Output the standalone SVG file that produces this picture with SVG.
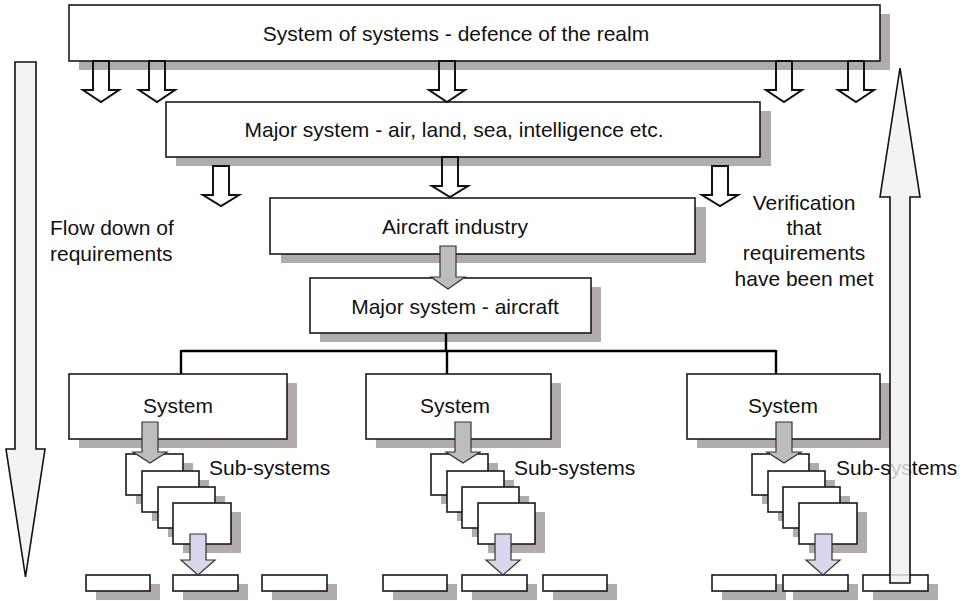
<svg xmlns="http://www.w3.org/2000/svg" width="964" height="601" viewBox="0 0 964 601">
  <style>
    text { font-family: "Liberation Sans", Arial, sans-serif; font-size: 21px; fill: #111; }
    .box { fill: #fff; stroke: #1a1a1a; stroke-width: 1.6; }
    .shadow { fill: #b1abab; }
    .hollow { fill: none; stroke: #111; stroke-width: 2; stroke-linejoin: miter; }
    .grey { fill: #bdbdbd; stroke: #333; stroke-width: 1.2; }
    .lilac { fill: #d9d6ee; stroke: #333; stroke-width: 1.2; }
    .big { fill: #f0f0f0; fill-opacity: 0.8; stroke: #111; stroke-width: 1.6; }
    .tree { fill: none; stroke: #000; stroke-width: 2.4; }
    .mid { text-anchor: middle; }
  </style>

  <!-- level 1 -->
  <g id="system-of-systems">
    <rect class="shadow" x="79" y="14" width="811" height="56"/>
    <rect class="box" x="69" y="5" width="811" height="56"/>
    <text class="mid" x="456" y="41">System of systems - defence of the realm</text>
  </g>

  <!-- level 2 -->
  <g id="major-system">
    <rect class="shadow" x="176" y="111" width="595" height="55"/>
    <rect class="box" x="166" y="102" width="594" height="55"/>
    <text class="mid" x="454" y="137">Major system - air, land, sea, intelligence etc.</text>
  </g>

  <!-- level 3 -->
  <g id="aircraft-industry">
    <rect class="shadow" x="281" y="207" width="425" height="56"/>
    <rect class="box" x="270" y="198" width="425" height="56"/>
    <text class="mid" x="455" y="234">Aircraft industry</text>
  </g>

  <g id="major-system-aircraft">
    <rect class="shadow" x="320" y="287" width="281" height="55"/>
    <rect class="box" x="310" y="278" width="281" height="55"/>
    <text class="mid" x="455" y="314">Major system - aircraft</text>
  </g>

  <!-- side labels -->
  <g id="label-flow-down">
    <text x="50" y="235">Flow down of</text>
    <text x="50" y="261">requirements</text>
  </g>
  <g id="label-verification">
    <text class="mid" x="804" y="210">Verification</text>
    <text class="mid" x="804" y="235">that</text>
    <text class="mid" x="804" y="260">requirements</text>
    <text class="mid" x="804" y="286">have been met</text>
  </g>

  <!-- systems -->
  <g id="system-1">
    <rect class="shadow" x="79" y="383" width="218" height="65"/>
    <rect class="box" x="69" y="374" width="218" height="65"/>
    <text class="mid" x="178" y="413">System</text>
  </g>
  <g id="system-2">
    <rect class="shadow" x="376" y="383" width="185" height="65"/>
    <rect class="box" x="366" y="374" width="185" height="65"/>
    <text class="mid" x="455" y="413">System</text>
  </g>
  <g id="system-3">
    <rect class="shadow" x="697" y="383" width="193" height="65"/>
    <rect class="box" x="687" y="374" width="193" height="65"/>
    <text class="mid" x="783" y="413">System</text>
  </g>

  <!-- sub-system stacks -->
  <g id="subsystems-1">
    <rect class="shadow" x="136" y="463" width="57" height="41"/>
    <rect class="box" x="126" y="454" width="57" height="41"/>
    <rect class="shadow" x="152" y="480" width="57" height="41"/>
    <rect class="box" x="142" y="471" width="57" height="41"/>
    <rect class="shadow" x="168" y="496" width="57" height="41"/>
    <rect class="box" x="158" y="487" width="57" height="41"/>
    <rect class="shadow" x="183" y="512" width="58" height="41"/>
    <rect class="box" x="173" y="503" width="58" height="41"/>
    <text x="209" y="475">Sub-systems</text>
  </g>
  <g id="subsystems-2">
    <rect class="shadow" x="441" y="463" width="57" height="41"/>
    <rect class="box" x="431" y="454" width="57" height="41"/>
    <rect class="shadow" x="457" y="480" width="57" height="41"/>
    <rect class="box" x="447" y="471" width="57" height="41"/>
    <rect class="shadow" x="472" y="496" width="57" height="41"/>
    <rect class="box" x="462" y="487" width="57" height="41"/>
    <rect class="shadow" x="488" y="512" width="57" height="41"/>
    <rect class="box" x="478" y="503" width="57" height="41"/>
    <text x="514" y="475">Sub-systems</text>
  </g>
  <g id="subsystems-3">
    <rect class="shadow" x="762" y="463" width="57" height="41"/>
    <rect class="box" x="752" y="454" width="57" height="41"/>
    <rect class="shadow" x="778" y="480" width="57" height="41"/>
    <rect class="box" x="768" y="471" width="57" height="41"/>
    <rect class="shadow" x="793" y="496" width="57" height="41"/>
    <rect class="box" x="783" y="487" width="57" height="41"/>
    <rect class="shadow" x="809" y="512" width="58" height="41"/>
    <rect class="box" x="799" y="503" width="58" height="41"/>
    <text x="836" y="475">Sub-systems</text>
  </g>

  <!-- components -->
  <g id="components-1">
    <rect class="shadow" x="96" y="584" width="64" height="16"/>
    <rect class="box" x="86" y="575" width="64" height="16"/>
    <rect class="shadow" x="183" y="584" width="65" height="16"/>
    <rect class="box" x="173" y="575" width="65" height="16"/>
    <rect class="shadow" x="272" y="584" width="65" height="16"/>
    <rect class="box" x="262" y="575" width="65" height="16"/>
  </g>
  <g id="components-2">
    <rect class="shadow" x="393" y="584" width="64" height="16"/>
    <rect class="box" x="383" y="575" width="64" height="16"/>
    <rect class="shadow" x="472" y="584" width="65" height="16"/>
    <rect class="box" x="462" y="575" width="65" height="16"/>
    <rect class="shadow" x="553" y="584" width="64" height="16"/>
    <rect class="box" x="543" y="575" width="64" height="16"/>
  </g>
  <g id="components-3">
    <rect class="shadow" x="722" y="584" width="64" height="16"/>
    <rect class="box" x="712" y="575" width="64" height="16"/>
    <rect class="shadow" x="793" y="584" width="65" height="16"/>
    <rect class="box" x="783" y="575" width="65" height="16"/>
    <rect class="shadow" x="873" y="584" width="65" height="16"/>
    <rect class="box" x="863" y="575" width="65" height="16"/>
  </g>

  <!-- connectors -->
  <g id="connectors">
    <!-- hollow flow arrows, level 1 to level 2 -->
    <path class="hollow" d="M93,61 V90 H83 L101,102 L119,90 H109 V61 Z"/>
    <path class="hollow" d="M149,61 V90 H139 L157,102 L175,90 H165 V61 Z"/>
    <path class="hollow" d="M439,61 V90 H429 L447,102 L465,90 H455 V61 Z"/>
    <path class="hollow" d="M776,61 V90 H766 L784,102 L802,90 H792 V61 Z"/>
    <path class="hollow" d="M848,61 V90 H838 L856,102 L874,90 H864 V61 Z"/>

    <!-- hollow flow arrows, level 2 to level 3 -->
    <path class="hollow" d="M213,166 V195 H203 L221,206 L239,195 H229 V166 Z"/>
    <path class="hollow" d="M442,157 V186 H432 L450,197 L468,186 H458 V157 Z"/>
    <path class="hollow" d="M712,166 V195 H702 L720,206 L738,195 H728 V166 Z"/>

    <!-- industry to aircraft -->
    <path class="grey" d="M440,246 V277 H431 L448,289 L465,277 H456 V246 Z"/>

    <!-- aircraft breakdown tree -->
    <path class="tree" d="M446,333 V351 M181,351 H776 M181,350 V374 M447,350 V374 M776,350 V374"/>

    <!-- system to sub-systems -->
    <path class="grey" d="M142,422 V452 H133 L150,463 L167,452 H158 V422 Z"/>
    <path class="grey" d="M455,422 V452 H446 L463,463 L480,452 H471 V422 Z"/>
    <path class="grey" d="M776,422 V452 H767 L784,463 L801,452 H792 V422 Z"/>

    <!-- sub-systems to components -->
    <path class="lilac" d="M190,534 V560 H181 L198,575 L215,560 H206 V534 Z"/>
    <path class="lilac" d="M495,534 V560 H486 L503,575 L520,560 H511 V534 Z"/>
    <path class="lilac" d="M815,534 V560 H806 L823,575 L840,560 H832 V534 Z"/>

    <!-- requirements flow down -->
    <path class="big" d="M15,62 H36 V449 H45 L25.5,577 L6,449 H15 Z"/>
    <!-- verification flows up -->
    <path class="big" d="M890,583 V197 H880 L900,68 L920,197 H910 V583 Z"/>
  </g>
</svg>
